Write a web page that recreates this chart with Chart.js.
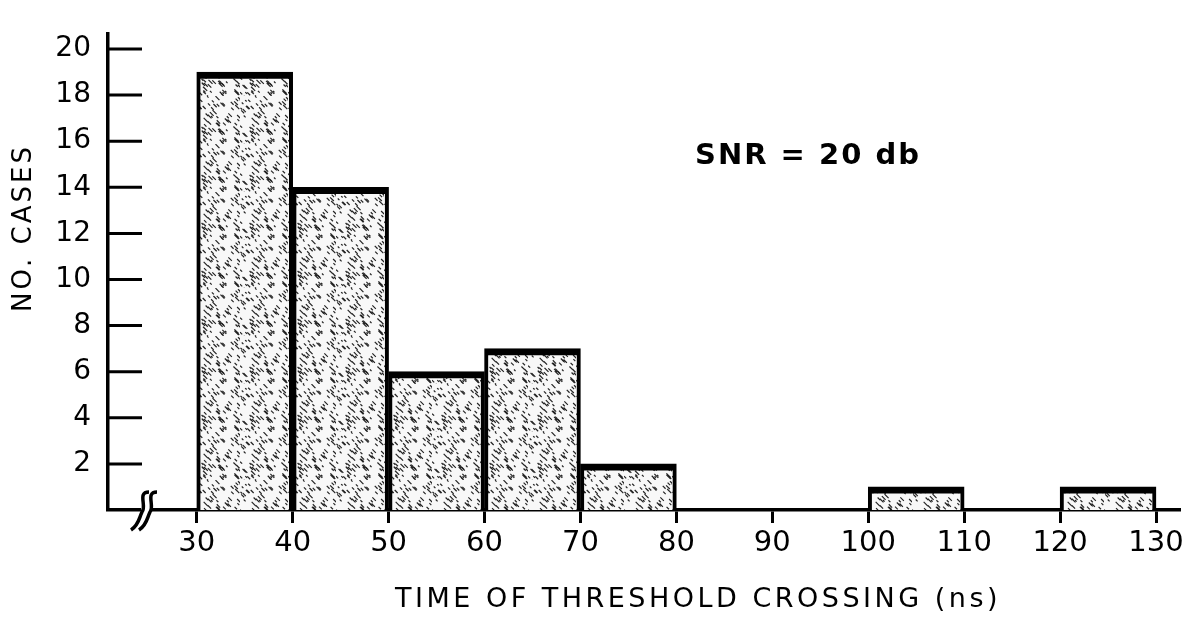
<!DOCTYPE html>
<html>
<head>
<meta charset="utf-8">
<script src="https://cdn.jsdelivr.net/npm/chart.js@4.4.1/dist/chart.umd.min.js"></script>
<style>
  html, body { margin: 0; padding: 0; background: #fff; }
  .chart-box { width: 1193px; height: 621px; position: relative; }
</style>
</head>
<body>
<div class="chart-box"><canvas id="histChart"></canvas></div>
<script>
// bin centres (ns) and case counts
const binCentres = [35, 45, 55, 65, 75, 105, 125];
const caseCounts = [19, 14, 6, 7, 2, 1, 1];
const xTicks = [30, 40, 50, 60, 70, 80, 90, 100, 110, 120, 130];
const yTicks = [2, 4, 6, 8, 10, 12, 14, 16, 18, 20];

const FONT = "'DejaVu Sans', sans-serif";

// stipple fill like the printed figure
function makeStipple() {
  const c = document.createElement('canvas');
  c.width = 48; c.height = 48;
  const g = c.getContext('2d');
  g.fillStyle = '#f8f8f8';
  g.fillRect(0, 0, 48, 48);
  g.strokeStyle = '#222';
  g.lineWidth = 1.2;
  let seed = 7;
  const rnd = () => { seed = (seed * 16807) % 2147483647; return seed / 2147483647; };
  for (let i = 0; i < 85; i++) {
    const x = rnd() * 48, y = rnd() * 48, len = 2 + rnd() * 4;
    g.beginPath();
    g.moveTo(x, y);
    g.lineTo(x + len * 0.7, y + len * 0.7);
    g.stroke();
  }
  return g.createPattern(c, 'repeat');
}

// tick marks inside the plot, axis break, titles
const decorations = {
  id: 'decorations',
  afterDraw(chart) {
    const ctx = chart.ctx;
    const area = chart.chartArea;
    const ys = chart.scales.y;
    ctx.save();
    ctx.strokeStyle = '#000';
    ctx.lineWidth = 3;
    yTicks.forEach(v => {
      const py = ys.getPixelForValue(v);
      ctx.beginPath();
      ctx.moveTo(area.left, py);
      ctx.lineTo(area.left + 34, py);
      ctx.stroke();
    });

    // axis break on the x axis
    const bx = area.left + 38, by = area.bottom;
    ctx.fillStyle = '#fff';
    ctx.fillRect(bx - 5, by - 4, 10, 8);
    ctx.lineWidth = 3.5;
    [-4, 4].forEach(dx => {
      ctx.beginPath();
      ctx.moveTo(bx + dx + 7, by - 18);
      ctx.bezierCurveTo(bx + dx - 5, by - 18, bx + dx + 5, by - 4, bx + dx, by + 2);
      ctx.bezierCurveTo(bx + dx - 3, by + 8, bx + dx - 3, by + 15, bx + dx - 11, by + 20);
      ctx.stroke();
    });

    ctx.fillStyle = '#000';
    ctx.textAlign = 'center';
    ctx.textBaseline = 'middle';
    ctx.font = `bold 29px ${FONT}`;
    ctx.letterSpacing = '2px';
    ctx.fillText('SNR = 20 db', 808, 156);

    ctx.font = `27px ${FONT}`;
    ctx.letterSpacing = '3.5px';
    ctx.fillText('TIME OF THRESHOLD CROSSING (ns)', 698, 600);

    ctx.translate(24, 228);
    ctx.rotate(-Math.PI / 2);
    ctx.font = `26px ${FONT}`;
    ctx.letterSpacing = '3px';
    ctx.fillText('NO. CASES', 0, 0);
    ctx.restore();
  }
};

const ctx = document.getElementById('histChart').getContext('2d');
new Chart(ctx, {
  type: 'bar',
  data: {
    datasets: [{
      data: binCentres.map((x, i) => ({ x: x, y: caseCounts[i] })),
      backgroundColor: makeStipple(),
      borderColor: '#000',
      borderWidth: { top: 7, left: 4, right: 4, bottom: 0 },
      borderSkipped: 'bottom',
      barPercentage: 1,
      categoryPercentage: 1
    }]
  },
  options: {
    responsive: true,
    maintainAspectRatio: false,
    animation: false,
    layout: { padding: { top: 12, right: 13, left: 0, bottom: 0 } },
    plugins: { legend: { display: false }, tooltip: { enabled: false } },
    scales: {
      x: {
        type: 'linear',
        offset: false,
        min: 20.75,
        max: 132.5,
        afterBuildTicks: s => { s.ticks = xTicks.map(v => ({ value: v })); },
        afterFit: s => { s.height = 111; },
        grid: { offset: false, drawOnChartArea: false, drawTicks: true, tickLength: 13, tickWidth: 3, tickColor: '#000' },
        border: { display: true, color: '#000', width: 3.5 },
        ticks: { color: '#000', font: { family: FONT, size: 29 }, padding: 3, maxRotation: 0, autoSkip: false }
      },
      y: {
        min: 0,
        max: 20.66,
        afterBuildTicks: s => { s.ticks = yTicks.map(v => ({ value: v })); },
        afterFit: s => { s.width = 108; },
        grid: { drawOnChartArea: false, drawTicks: false },
        border: { display: true, color: '#000', width: 3.5 },
        ticks: { color: '#000', font: { family: FONT, size: 28 }, padding: 17, autoSkip: false }
      }
    }
  },
  plugins: [decorations]
});
</script>
</body>
</html>
